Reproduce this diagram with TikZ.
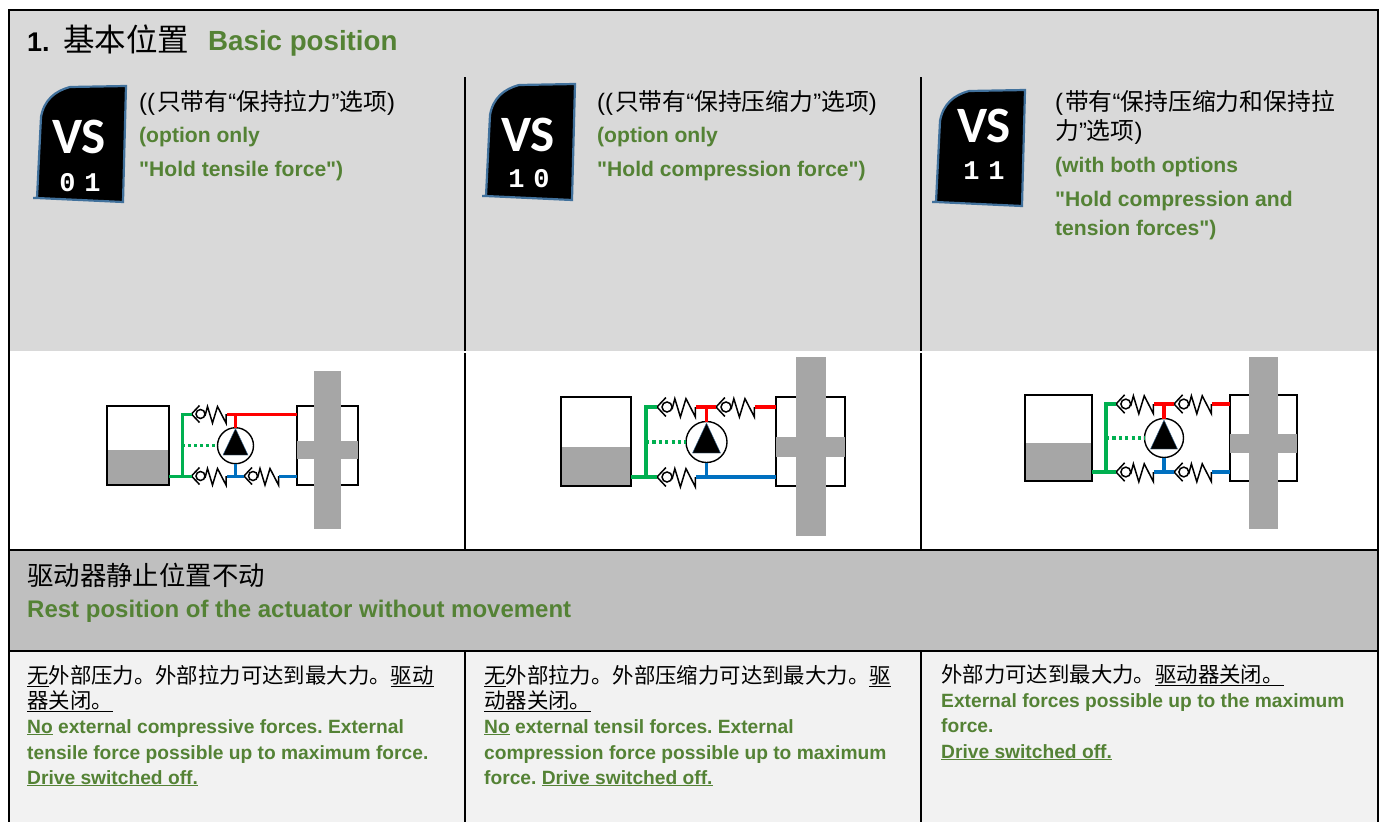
\documentclass[tikz,border=0pt]{standalone}
\usepackage{fontspec}
\setmainfont{Liberation Sans}[Ligatures=TeXOff]
\newfontfamily\cjk{Noto Sans CJK SC}
\newfontfamily\monofam{Liberation Mono}
\newfontfamily\badgefam{Carlito}
\newcommand{\zh}[1]{{\cjk #1}}
\newcommand{\undertxt}[1]{\vtop{\hbox{#1}\kern1pt\hrule height 1pt}}
\frenchspacing
\definecolor{engreen}{HTML}{548235}
\definecolor{lgreen}{HTML}{00B050}
\definecolor{lblue}{HTML}{0070C0}
\definecolor{badgeblue}{HTML}{41719C}
\definecolor{partgray}{HTML}{A6A6A6}
\tikzset{
  zhtext/.style={anchor=base west, inner sep=0pt, text=black, font=\fontsize{23.8}{28}\selectfont},
  zhsmall/.style={zhtext, font=\fontsize{21.4}{26}\selectfont},
  entext/.style={anchor=base west, inner sep=0pt, yshift=1pt, text=engreen, font=\fontsize{21.1}{26}\selectfont\bfseries},
  ensmall/.style={entext, font=\fontsize{19.2}{24}\selectfont\bfseries},
  tankbox/.style={draw=black, line width=1.4pt, fill=white, inner sep=0pt, outer sep=0pt},
  solidbox/.style={fill=partgray, inner sep=0pt, outer sep=0pt},
  pumpnode/.style={circle, draw=black, line width=1.4pt, fill=white, inner sep=0pt, outer sep=0pt},
  divider/.style={line width=2.6pt, black},
  badgeword/.style={inner sep=0pt, text=white, font=\fontsize{51}{54}\badgefam\bfseries\selectfont},
  badgenum/.style={inner sep=0pt, text=white, font=\fontsize{27}{30}\monofam\bfseries\selectfont},
  redline/.style={line width=#1, red},
  blueline/.style={line width=#1, lblue},
  greenline/.style={line width=#1, lgreen},
  dotline/.style={line width=#1, lgreen, dash pattern=on #1 off #1},
  valve/.pic={
    \coordinate (-in) at (0,0);
    \coordinate (-out) at (35,0);
    \draw[line width=1.5pt, black, line join=miter] (8,-8.5) -- (0,0) -- (8,8.5);
    \draw[line width=1.5pt, black] (9,0) circle (4.5);
    \draw[line width=1.5pt, black, line join=miter] (13.5,2) -- (16,-7.5) -- (21,9) -- (26,-7.5) -- (34.5,9) -- (34.5,0);
  },
  badge/.pic={
    \draw[line width=2.2pt, badgeblue, fill=black] (0,112) -- (4,31) .. controls (7,14) and (18,5) .. (33,1) -- (89,0) -- (86,116) -- (0,112) -- (-4,112);
  }
}
\begin{document}
\begin{tikzpicture}[x=1pt, y=-1pt]
\useasboundingbox (0,0) rectangle (1385,822);

% bands
\fill[white] (0,0) rectangle (1385,822);
\fill[black!15] (9,10) rectangle (1378,351);
\fill[white] (9,351) rectangle (1378,550);
\fill[black!25] (9,550) rectangle (1378,651);
\fill[black!5] (9,651) rectangle (1378,822);

% frame
\draw[divider] (9,822) -- (9,10) -- (1378,10) -- (1378,822);
\draw[divider] (9,550) -- (1378,550);
\draw[divider] (9,651) -- (1378,651);
\foreach \xcol in {465,921} {
  \draw[divider] (\xcol,77) -- (\xcol,351);
  \draw[divider] (\xcol,353) -- (\xcol,550);
  \draw[divider] (\xcol,651) -- (\xcol,822);
}

% title
\node[anchor=base west, inner sep=0pt, font=\fontsize{27}{34}\selectfont\bfseries] (titlenum) at (27,51) {1.};
\node[anchor=base west, inner sep=0pt, font=\fontsize{31.5}{34}\selectfont] (titlezh) at (63,51) {\zh{基本位置}};
\node[entext, font=\fontsize{27.7}{34}\selectfont\bfseries] (titleen) at (208,51) {Basic position};

% badges
\pic at (37,86) {badge};
\node[badgeword] (vsa) at (79,137) {VS};
\node[badgenum] (numa) at (80,183) {0\kern9pt 1};
\pic at (486,84) {badge};
\node[badgeword] (vsb) at (528,135) {VS};
\node[badgenum] (numb) at (529,179) {1\kern9pt 0};
\pic at (936,90) {badge};
\node[badgeword] (vsc) at (984,126) {VS};
\node[badgenum] (numc) at (984,171) {1\kern9pt 1};

% option texts
\node[zhtext] (opta) at (139,110) {((\kern2pt\zh{只带有}“\zh{保持拉力}”\zh{选项})};
\node[entext] (optaa) at (139,143) {(option only};
\node[entext] (optab) at (139,177) {"Hold tensile force")};
\node[zhtext] (optb) at (597,110) {((\kern2pt\zh{只带有}“\zh{保持压缩力}”\zh{选项})};
\node[entext] (optba) at (597,143) {(option only};
\node[entext] (optbb) at (597,177) {"Hold compression force")};
\node[zhtext] (optc) at (1055,110) {(\kern2pt\zh{带有}“\zh{保持压缩力和保持拉}};
\node[zhtext] (optca) at (1055,139) {\zh{力}”\zh{选项})};
\node[entext] (optcb) at (1055,173) {(with both options};
\node[entext] (optcc) at (1055,207) {"Hold compression and};
\node[entext] (optcd) at (1055,236) {tension forces")};

% schematic 1
\node[tankbox, minimum width=62pt, minimum height=79pt] (tanka) at (138,445.5) {};
\fill[partgray] (107.7,450) rectangle (168.3,484.3);
\node[tankbox, minimum width=61pt, minimum height=79pt] (cyla) at (327.5,445.5) {};
\node[solidbox, minimum width=61pt, minimum height=18pt] (pista) at (327.5,450) {};
\node[solidbox, minimum width=27pt, minimum height=158pt] (roda) at (327.5,450) {};
\node[pumpnode, minimum size=36pt] (pumpa) at (235.5,445.7) {};
\fill[black, draw=badgeblue, line width=0.4pt] (235.5,428.5) -- (248,455) -- (223,455) -- cycle;
\pic (vaa) at (191.5,414) {valve};
\pic (vab) at (191.5,476) {valve};
\pic (vac) at (244,476) {valve};
\coordinate (gaa) at (182,476);
\coordinate (gab) at (182,414);
\coordinate (gac) at (182,445.7);
\coordinate (raa) at (235.5,414);
\coordinate (baa) at (235.5,476);
\coordinate (caa) at (cyla.west |- raa);
\coordinate (cab) at (cyla.west |- baa);
\draw[greenline=3pt] (tanka.east |- gaa) -- (vab-in);
\draw[greenline=3pt] (gaa) -- (gab) -- (vaa-in);
\draw[dotline=3pt] (gac) -- (pumpa.west);
\draw[redline=3pt] (vaa-out) -- (caa);
\draw[redline=3pt] (raa) -- (pumpa.north);
\draw[blueline=3pt] (vab-out) -- (vac-in);
\draw[blueline=3pt] (vac-out) -- (cab);
\draw[blueline=3pt] (baa) -- (pumpa.south);

% schematic 2
\node[tankbox, minimum width=70pt, minimum height=89pt] (tankb) at (596,441.5) {};
\fill[partgray] (561.7,447) rectangle (630.3,485.3);
\node[tankbox, minimum width=69pt, minimum height=89pt] (cylb) at (810.5,441.5) {};
\node[solidbox, minimum width=69pt, minimum height=20pt] (pistb) at (810.5,447) {};
\node[solidbox, minimum width=30pt, minimum height=179pt] (rodb) at (810.5,446.5) {};
\node[pumpnode, minimum size=41pt] (pumpb) at (706.5,442) {};
\fill[black, draw=badgeblue, line width=0.4pt] (706.5,423) -- (720.5,453) -- (692.5,453) -- cycle;
\pic (vba) at (657,407) [scale=1.114] {valve};
\pic (vbb) at (716,407) [scale=1.114] {valve};
\pic (vbc) at (657,477) [scale=1.114] {valve};
\coordinate (gba) at (646,477);
\coordinate (gbb) at (646,407);
\coordinate (gbc) at (646,442);
\coordinate (rba) at (706.5,407);
\coordinate (bba) at (706.5,477);
\coordinate (cba) at (cylb.west |- rba);
\coordinate (cbb) at (cylb.west |- bba);
\draw[greenline=3.2pt] (tankb.east |- gba) -- (vbc-in);
\draw[greenline=3.2pt] (gba) -- (gbb) -- (vba-in);
\draw[dotline=3.2pt] (gbc) -- (pumpb.west);
\draw[redline=3.2pt] (vba-out) -- (vbb-in);
\draw[redline=3.2pt] (vbb-out) -- (cba);
\draw[redline=3.2pt] (rba) -- (pumpb.north);
\draw[blueline=3.2pt] (vbc-out) -- (cbb);
\draw[blueline=3.2pt] (bba) -- (pumpb.south);

% schematic 3
\node[tankbox, minimum width=67pt, minimum height=86pt] (tankc) at (1058.5,438) {};
\fill[partgray] (1025.7,443) rectangle (1091.3,480.3);
\node[tankbox, minimum width=67pt, minimum height=86pt] (cylc) at (1263.5,438) {};
\node[solidbox, minimum width=67pt, minimum height=19pt] (pistc) at (1263.5,443.5) {};
\node[solidbox, minimum width=29pt, minimum height=172pt] (rodc) at (1263.5,443) {};
\node[pumpnode, minimum size=39pt] (pumpc) at (1164,438) {};
\fill[black, draw=badgeblue, line width=0.4pt] (1164,420) -- (1177.5,449) -- (1150.5,449) -- cycle;
\pic (vca) at (1116,404) [scale=1.086] {valve};
\pic (vcb) at (1174,404) [scale=1.086] {valve};
\pic (vcc) at (1116,472) [scale=1.086] {valve};
\pic (vcd) at (1174,472) [scale=1.086] {valve};
\coordinate (gca) at (1106,472);
\coordinate (gcb) at (1106,404);
\coordinate (gcc) at (1106,438);
\coordinate (rca) at (1164,404);
\coordinate (bca) at (1164,472);
\coordinate (cca) at (cylc.west |- rca);
\coordinate (ccb) at (cylc.west |- bca);
\draw[greenline=3.2pt] (tankc.east |- gca) -- (vcc-in);
\draw[greenline=3.2pt] (gca) -- (gcb) -- (vca-in);
\draw[dotline=3.2pt] (gcc) -- (pumpc.west);
\draw[redline=3.2pt] (vca-out) -- (vcb-in);
\draw[redline=3.2pt] (vcb-out) -- (cca);
\draw[redline=3.2pt] (rca) -- (pumpc.north);
\draw[blueline=3.2pt] (vcc-out) -- (vcd-in);
\draw[blueline=3.2pt] (vcd-out) -- (ccb);
\draw[blueline=3.2pt] (bca) -- (pumpc.south);

% rest position band
\node[zhtext, font=\fontsize{26.4}{30}\selectfont] (resta) at (27,585) {\zh{驱动器静止位置不动}};
\node[entext, font=\fontsize{24}{28}\selectfont\bfseries] (restb) at (27,618) {Rest position of the actuator without movement};

% bottom texts
\node[zhsmall] (desca) at (27,683) {\zh{\undertxt{无}外部压力。外部拉力可达到最大力。\undertxt{驱动}}};
\node[zhsmall] (descaa) at (27,708) {\zh{\undertxt{器关闭。}}};
\node[ensmall] (descab) at (27,734) {\undertxt{No} external compressive forces. External};
\node[ensmall] (descac) at (27,760) {tensile force possible up to maximum force.};
\node[ensmall] (descad) at (27,785) {\undertxt{Drive switched off.}};
\node[zhsmall] (descb) at (484,683) {\zh{\undertxt{无}外部拉力。外部压缩力可达到最大力。\undertxt{驱}}};
\node[zhsmall] (descba) at (484,708) {\zh{\undertxt{动器关闭。}}};
\node[ensmall] (descbb) at (484,734) {\undertxt{No} external tensil forces. External};
\node[ensmall] (descbc) at (484,760) {compression force possible up to maximum};
\node[ensmall] (descbd) at (484,785) {force. \undertxt{Drive switched off.}};
\node[zhsmall] (descc) at (941,682) {\zh{外部力可达到最大力。\undertxt{驱动器关闭。}}};
\node[ensmall] (descca) at (941,708) {External forces possible up to the maximum};
\node[ensmall] (desccb) at (941,733) {force.};
\node[ensmall] (desccc) at (941,759) {\undertxt{Drive switched off.}};
\end{tikzpicture}
\end{document}
